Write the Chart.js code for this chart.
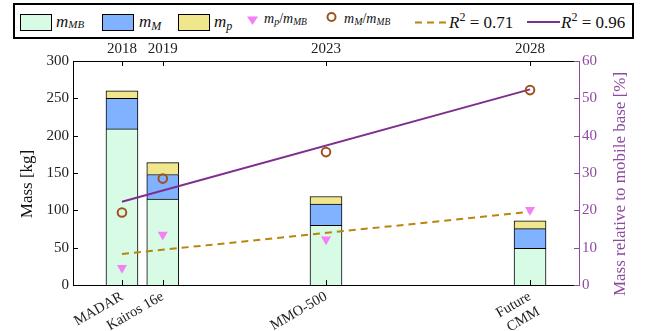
<!DOCTYPE html>
<html>
<head>
<meta charset="utf-8">
<script src="https://cdn.jsdelivr.net/npm/chart.js@4/dist/chart.umd.min.js"></script>
<style>
  html, body { margin: 0; padding: 0; background: #fff; }
  #wrap { position: relative; width: 647px; height: 331px; }
  #c, #key { position: absolute; left: 0; top: 0; }
  #key text { font-family: "Liberation Serif", "DejaVu Serif", serif; fill: #111; }
  #key .it { font-style: italic; }
</style>
</head>
<body>
<div id="wrap">
  <canvas id="c" width="647" height="331"></canvas>
  <svg id="key" width="647" height="40" xmlns="http://www.w3.org/2000/svg">
    <rect x="14" y="4" width="619" height="34" fill="#fff" stroke="#000" stroke-width="2"/>
    <!-- mass components -->
    <rect x="20.5" y="14.5" width="31" height="16" fill="#d8fbe5" stroke="#000" stroke-width="1"/>
    <text x="56" y="27" font-size="17"><tspan class="it">m</tspan><tspan class="it" font-size="11" dy="1">MB</tspan></text>
    <rect x="102.5" y="14.5" width="31" height="16" fill="#80b2ff" stroke="#000" stroke-width="1"/>
    <text x="139" y="27" font-size="17"><tspan class="it">m</tspan><tspan class="it" font-size="12" dy="3">M</tspan></text>
    <rect x="178.5" y="14.5" width="31" height="16" fill="#f0e68c" stroke="#000" stroke-width="1"/>
    <text x="214" y="27" font-size="17"><tspan class="it">m</tspan><tspan class="it" font-size="12" dy="3">p</tspan></text>
    <!-- ratios -->
    <polygon points="247,16.5 258,16.5 252.5,25" fill="#f57ff5"/>
    <text x="264" y="23" font-size="14"><tspan class="it">m</tspan><tspan class="it" font-size="10" dy="2">p</tspan><tspan dy="-2">/</tspan><tspan class="it">m</tspan><tspan class="it" font-size="9.5" dy="2">MB</tspan></text>
    <circle cx="331.5" cy="17" r="4" fill="none" stroke="#a0521e" stroke-width="2"/>
    <text x="344" y="23" font-size="14"><tspan class="it">m</tspan><tspan class="it" font-size="10" dy="2">M</tspan><tspan dy="-2">/</tspan><tspan class="it">m</tspan><tspan class="it" font-size="9.5" dy="2">MB</tspan></text>
    <!-- fits -->
    <line x1="415" y1="22.5" x2="448" y2="22.5" stroke="#b8860b" stroke-width="2" stroke-dasharray="7 5"/>
    <text x="449" y="28" font-size="17"><tspan class="it">R</tspan><tspan font-size="12" dy="-7">2</tspan><tspan dy="7">&#160;=&#160;0.71</tspan></text>
    <line x1="527" y1="22" x2="560" y2="22" stroke="#7e2f8e" stroke-width="2"/>
    <text x="561" y="28" font-size="17"><tspan class="it">R</tspan><tspan font-size="12" dy="-7">2</tspan><tspan dy="7">&#160;=&#160;0.96</tspan></text>
  </svg>
</div>
<script>
// Platforms and their launch years
const years = [2018, 2019, 2023, 2028];
const names = ['MADAR', 'Kairos 16e', 'MMO-500', ['Future', 'CMM']];

// Mass breakdown [kg]
const massBase = [209, 115, 80, 49];
const massManip = [41, 33, 28.5, 26.5];
const massPayload = [10, 16, 10, 10.5];

// Mass relative to mobile base [%]
const ratioPayload = [4.6, 13.5, 12.2, 20.1];
const ratioManip = [19.4, 28.5, 35.6, 52.2];

// Linear trends (end points)
const fitYears = [2018, 2028];
const fitPayload = [8.3, 19.6];
const fitManip = [22.3, 52.4];

const SERIF = '"Liberation Serif", "DejaVu Serif", serif';
const PURPLE = '#7e2f8e';
const AXIS_PURPLE = '#8e4a9e';

const pts = (xs, ys) => xs.map((x, i) => ({ x, y: ys[i] }));

// Short tick marks drawn on the inner side of each axis
const inwardTicks = {
  id: 'inwardTicks',
  afterDraw(chart) {
    const { ctx, chartArea: a, scales: s } = chart;
    const len = 5;
    ctx.save();
    ctx.lineWidth = 1;
    const seg = (x1, y1, x2, y2, col) => {
      ctx.strokeStyle = col;
      ctx.beginPath(); ctx.moveTo(x1, y1); ctx.lineTo(x2, y2); ctx.stroke();
    };
    s.x.ticks.forEach(t => {
      const p = Math.round(s.x.getPixelForValue(t.value)) + 0.5;
      seg(p, a.bottom, p, a.bottom - len, '#000');
    });
    s.x2.ticks.forEach(t => {
      const p = Math.round(s.x2.getPixelForValue(t.value)) + 0.5;
      seg(p, a.top, p, a.top + len, '#000');
    });
    s.y.ticks.forEach(t => {
      const p = Math.round(s.y.getPixelForValue(t.value)) + 0.5;
      seg(a.left, p, a.left + len, p, '#000');
    });
    s.y2.ticks.forEach(t => {
      const p = Math.round(s.y2.getPixelForValue(t.value)) + 0.5;
      seg(a.right, p, a.right - len, p, AXIS_PURPLE);
    });
    ctx.restore();
  }
};

// Vertical axis titles, both reading bottom-to-top
const axisTitles = {
  id: 'axisTitles',
  afterDraw(chart) {
    const { ctx, chartArea: a } = chart;
    const cy = a.top + (a.bottom - a.top) / 2 + 11;
    ctx.save();
    ctx.font = '17px ' + SERIF;
    ctx.textAlign = 'center';
    ctx.textBaseline = 'middle';
    ctx.translate(28, cy);
    ctx.rotate(-Math.PI / 2);
    ctx.fillStyle = '#111';
    ctx.fillText('Mass [kg]', 0, 0);
    ctx.restore();
    ctx.save();
    ctx.font = '17px ' + SERIF;
    ctx.textAlign = 'center';
    ctx.textBaseline = 'middle';
    ctx.translate(621, cy);
    ctx.rotate(-Math.PI / 2);
    ctx.fillStyle = AXIS_PURPLE;
    ctx.fillText('Mass relative to mobile base [%]', 0, 0);
    ctx.restore();
  }
};

const barCommon = {
  type: 'bar', stack: 'mass', order: 2, borderColor: '#000', borderWidth: 1,
  barThickness: 32, xAxisID: 'x', yAxisID: 'y'
};

const noGrid = { display: false, drawTicks: false, tickLength: 0 };

new Chart(document.getElementById('c'), {
  data: {
    datasets: [
      { ...barCommon, label: 'm_MB', data: pts(years, massBase), backgroundColor: '#d8fbe5' },
      { ...barCommon, label: 'm_M', data: pts(years, massManip), backgroundColor: '#80b2ff' },
      { ...barCommon, label: 'm_p', data: pts(years, massPayload), backgroundColor: '#f0e68c' },
      {
        type: 'line', label: 'R2 0.71', data: pts(fitYears, fitPayload), order: 1,
        borderColor: '#b8860b', borderWidth: 2, borderDash: [7, 5], pointRadius: 0,
        xAxisID: 'x', yAxisID: 'y2'
      },
      {
        type: 'line', label: 'R2 0.96', data: pts(fitYears, fitManip), order: 1,
        borderColor: PURPLE, borderWidth: 2, pointRadius: 0,
        xAxisID: 'x', yAxisID: 'y2'
      },
      {
        type: 'line', label: 'm_p/m_MB', data: pts(years, ratioPayload), order: 0,
        showLine: false, pointStyle: 'triangle', rotation: 180, pointRadius: 5.8,
        backgroundColor: '#f57ff5', borderColor: '#f57ff5', borderWidth: 0,
        xAxisID: 'x', yAxisID: 'y2'
      },
      {
        type: 'line', label: 'm_M/m_MB', data: pts(years, ratioManip), order: 0,
        showLine: false, pointStyle: 'circle', pointRadius: 4.3,
        backgroundColor: 'rgba(0,0,0,0)', borderColor: '#a0521e', borderWidth: 2,
        xAxisID: 'x', yAxisID: 'y2'
      }
    ]
  },
  options: {
    responsive: false,
    animation: false,
    layout: { padding: { top: 40, left: 0, right: 0, bottom: 0 } },
    plugins: { legend: { display: false }, tooltip: { enabled: false } },
    scales: {
      x: {
        type: 'linear', position: 'bottom', min: 2016.8, max: 2029.2, offset: false,
        grid: noGrid, border: { color: '#000', width: 1 },
        afterBuildTicks: s => { s.ticks = years.map(v => ({ value: v })); },
        afterFit: s => { s.height = 46; },
        ticks: {
          autoSkip: false, minRotation: 30, maxRotation: 30, padding: 3,
          color: '#222', font: { family: SERIF, size: 14.5 },
          callback: v => names[years.indexOf(v)]
        }
      },
      x2: {
        type: 'linear', position: 'top', min: 2016.8, max: 2029.2, offset: false,
        grid: noGrid, border: { color: '#000', width: 1 },
        afterBuildTicks: s => { s.ticks = years.map(v => ({ value: v })); },
        afterFit: s => { s.height = 21; },
        ticks: {
          autoSkip: false, maxRotation: 0, padding: 3,
          color: '#222', font: { family: SERIF, size: 15 },
          callback: v => String(v)
        }
      },
      y: {
        type: 'linear', position: 'left', stacked: true, min: 0, max: 300,
        grid: noGrid, border: { color: '#000', width: 1 },
        afterFit: s => { s.width = 73; },
        ticks: { stepSize: 50, padding: 4, color: '#222', font: { family: SERIF, size: 15 } }
      },
      y2: {
        type: 'linear', position: 'right', stacked: false, min: 0, max: 60,
        grid: noGrid, border: { color: AXIS_PURPLE, width: 1 },
        afterFit: s => { s.width = 68; },
        ticks: { stepSize: 10, padding: 3, color: AXIS_PURPLE, font: { family: SERIF, size: 15 } }
      }
    }
  },
  plugins: [inwardTicks, axisTitles]
});
</script>
</body>
</html>
